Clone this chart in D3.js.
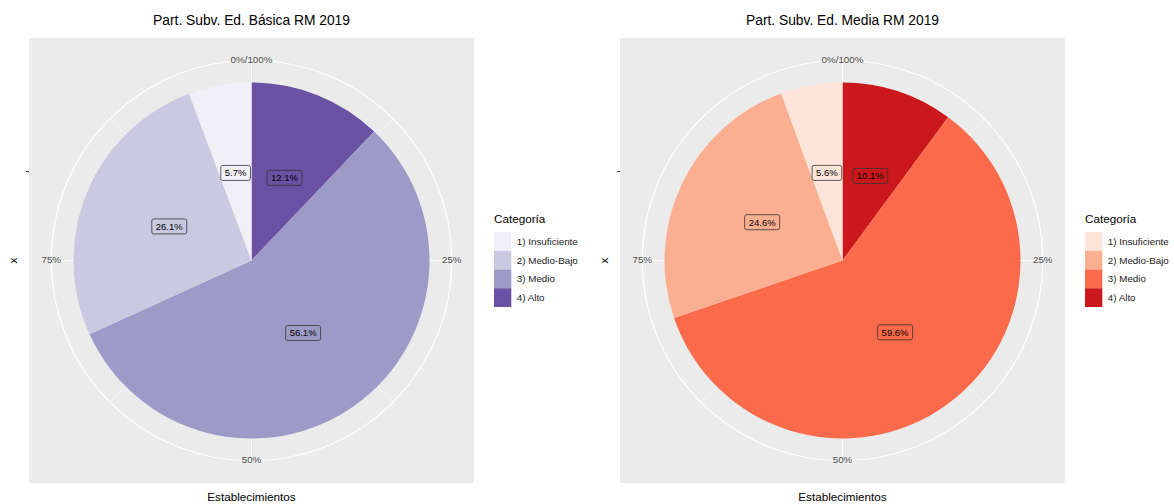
<!DOCTYPE html>
<html>
<head>
<meta charset="utf-8">
<script src="https://cdn.jsdelivr.net/npm/d3@7"></script>
<style>
  html, body { margin: 0; padding: 0; background: #fff; }
  svg { display: block; font-family: "Liberation Sans", Arial, Helvetica, sans-serif; }
</style>
</head>
<body>
<svg id="chart" width="1174" height="504"></svg>
<script>
// ---- data ----
const categories = ["1) Insuficiente", "2) Medio-Bajo", "3) Medio", "4) Alto"];
const basicaValues = [5.7, 26.1, 56.1, 12.1];
const mediaValues = [5.6, 24.6, 59.6, 10.1];
const purplesColors = ["#F2F0F7", "#CBC9E2", "#9E9AC8", "#6A51A3"];
const redsColors = ["#FEE5D9", "#FCAE91", "#FB6A4A", "#CB181D"];
const plotTitles = ["Part. Subv. Ed. Básica RM 2019", "Part. Subv. Ed. Media RM 2019"];
const thetaMajor = [0, 25, 50, 75];
const thetaMajorLabels = ["0%/100%", "25%", "50%", "75%"];
const thetaMinor = [12.5, 37.5, 62.5, 87.5];
const xCategories = [""];
const legendTitle = "Categoría";
const xAxisTitle = "Establecimientos";
const yAxisTitle = "x";

const svg = d3.select("#chart");

function drawPlot(offsetX, values, colors, title) {
  const W = 445;                     // panel size
  const panelX = offsetX + 29, panelY = 38;
  const cx = panelX + W / 2, cy = panelY + W / 2;
  const g = svg.append("g");

  // scales
  const theta = d3.scaleLinear().domain([0, 100]).range([0, 2 * Math.PI]);
  const npc = d3.scaleLinear().domain([0, 1]).range([0, W]);
  const xBand = d3.scaleBand().domain(xCategories).range([0, npc(0.4)]).padding(0);
  const color = d3.scaleOrdinal().domain(categories).range(colors);

  // panel background
  g.append("rect").attr("x", panelX).attr("y", panelY).attr("width", W).attr("height", W)
    .attr("fill", "#EBEBEB");

  const c = g.append("g").attr("transform", `translate(${cx},${cy})`);
  const rOuter = npc(0.45);
  // grid: minor theta lines
  thetaMinor.forEach(t => {
    const a = theta(t);
    c.append("line").attr("x1", 0).attr("y1", 0)
      .attr("x2", rOuter * Math.sin(a)).attr("y2", -rOuter * Math.cos(a))
      .attr("stroke", "#fff").attr("stroke-width", 0.55);
  });
  thetaMajor.forEach(t => {
    const a = theta(t);
    c.append("line").attr("x1", 0).attr("y1", 0)
      .attr("x2", rOuter * Math.sin(a)).attr("y2", -rOuter * Math.cos(a))
      .attr("stroke", "#fff").attr("stroke-width", 1.1);
  });
  // r grid circles
  [xBand("") + xBand.bandwidth() / 2, rOuter].forEach(r => {
    c.append("circle").attr("r", r).attr("fill", "none")
      .attr("stroke", "#fff").attr("stroke-width", 1.1);
  });

  // pie slices: stacked starting from top, clockwise, highest category first
  const order = categories.map((d, i) => ({ cat: d, value: values[i] })).reverse();
  const pie = d3.pie().sort(null).value(d => d.value).startAngle(0).endAngle(2 * Math.PI);
  const arcs = pie(order);
  const arc = d3.arc().innerRadius(xBand("")).outerRadius(xBand("") + xBand.bandwidth());
  c.selectAll("path.slice").data(arcs).enter().append("path")
    .attr("class", "slice")
    .attr("d", arc)
    .attr("fill", d => color(d.data.cat));

  // labels
  const rLab = xBand("") + xBand.bandwidth() / 2;
  arcs.forEach(d => {
    const a = (d.startAngle + d.endAngle) / 2;
    const lx = rLab * Math.sin(a), ly = -rLab * Math.cos(a);
    const lg = c.append("g").attr("transform", `translate(${lx},${ly})`);
    const rect = lg.append("rect");
    const txt = lg.append("text").attr("text-anchor", "middle").attr("dy", "0.35em")
      .attr("font-size", 9.5).attr("fill", "#000")
      .text(d.data.value.toFixed(1) + "%");
    const w = txt.node().getComputedTextLength() + 8;
    const h = 15;
    rect.attr("x", -w / 2).attr("y", -h / 2).attr("width", w).attr("height", h)
      .attr("rx", 2).attr("ry", 2)
      .attr("fill", color(d.data.cat)).attr("stroke", "#333").attr("stroke-width", 0.8);
  });

  // theta labels
  thetaMajor.forEach((t, i) => {
    const a = theta(t);
    c.append("text").attr("x", rOuter * Math.sin(a)).attr("y", -rOuter * Math.cos(a) - 1)
      .attr("text-anchor", "middle").attr("dy", "0.35em")
      .attr("font-size", 9.8).attr("fill", "#4D4D4D")
      .text(thetaMajorLabels[i]);
  });

  // y axis tick (r axis)
  const tickY = cy - rLab;
  g.append("line").attr("x1", panelX - 3).attr("x2", panelX).attr("y1", tickY).attr("y2", tickY)
    .attr("stroke", "#333").attr("stroke-width", 1);

  // titles
  g.append("text").attr("x", cx).attr("y", 25).attr("text-anchor", "middle")
    .attr("font-size", 13.8).attr("fill", "#000").text(title);
  g.append("text").attr("x", cx).attr("y", 501).attr("text-anchor", "middle")
    .attr("font-size", 11.7).attr("fill", "#000").text(xAxisTitle);
  g.append("text").attr("transform", `translate(${offsetX + 17},${cy}) rotate(-90)`)
    .attr("text-anchor", "middle").attr("font-size", 11.7).attr("fill", "#000").text(yAxisTitle);

  // legend
  const lx = offsetX + 494, ly = 232, kw = 17.3, kh = 18.75;
  g.append("text").attr("x", lx).attr("y", 223).attr("font-size", 11.7).attr("fill", "#000")
    .text(legendTitle);
  categories.forEach((cat, i) => {
    g.append("rect").attr("x", lx).attr("y", ly + i * kh).attr("width", kw).attr("height", kh)
      .attr("fill", color(cat));
    g.append("text").attr("x", lx + kw + 5.5).attr("y", ly + i * kh + kh / 2).attr("dy", "0.35em")
      .attr("font-size", 9.8).attr("fill", "#1A1A1A").text(cat);
  });
}

drawPlot(0, basicaValues, purplesColors, plotTitles[0]);
drawPlot(591, mediaValues, redsColors, plotTitles[1]);
</script>
</body>
</html>
